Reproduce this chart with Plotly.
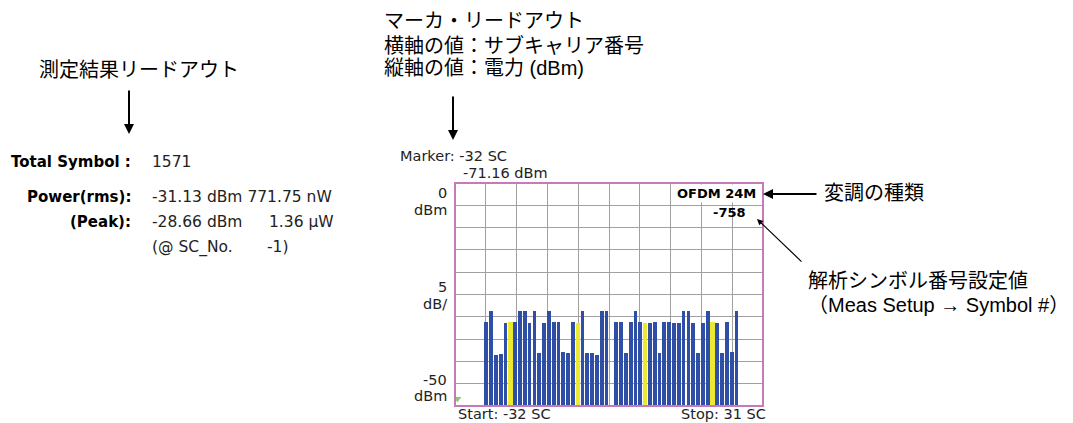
import plotly.graph_objects as go

# Subcarrier power readout (OFDM 24M, symbol -758)
subcarriers = list(range(-26, 0)) + list(range(1, 27))
power_dbm = [
    -31.2, -28.8, -38.5, -38.3, -31.4, -31.2, -31.2, -28.8, -28.8, -31.4,
    -28.8, -38.2, -31.4, -28.8, -31.2, -31.2, -37.9, -38.1, -31.2, -31.4,
    -28.8, -38.1, -38.1, -38.5, -28.8, -28.66,
    -31.2, -31.2, -38.1, -31.2, -28.8, -31.2, -31.4, -31.3, -31.2, -38.1,
    -31.2, -31.2, -31.4, -31.4, -28.7, -28.8, -31.4, -38.1, -31.4, -28.7,
    -31.2, -31.4, -38.1, -31.2, -37.9, -28.7,
]
pilot_sc = [-21, -7, 7, 21]

sc_start, sc_stop = -32, 31
ref_level_dbm = 0
db_per_div = 5
n_div = 10
bottom_dbm = ref_level_dbm - db_per_div * n_div

marker_sc = -32
marker_dbm = -71.16

readout_labels = ["Total Symbol :", "Power(rms):", "(Peak):"]
total_symbol = 1571
rms_dbm, rms_nw = -31.13, 771.75
peak_dbm, peak_uw = -28.66, 1.36
peak_sc = -1

# canvas and plot-box geometry in pixels
FW, FH = 1073, 423
L, R, T, B = 455, 763, 183, 406
W, H = R - L, B - T


def px(x):
    return (x - L) / W


def py(y):
    return (B - y) / H


BLUE = "#2f4fa6"
YELLOW = "#ede832"
INSTR = "DejaVu Sans, sans-serif"
JP = "Liberation Sans, Noto Sans CJK JP, sans-serif"

colors = [YELLOW if s in pilot_sc else BLUE for s in subcarriers]
widths = [0.9 if s in pilot_sc else 0.78 for s in subcarriers]

fig = go.Figure()
fig.add_trace(go.Bar(
    x=subcarriers,
    y=[v - bottom_dbm for v in power_dbm],
    base=bottom_dbm,
    marker=dict(color=colors, line=dict(width=0)),
    width=widths,
    showlegend=False,
))
fig.add_trace(go.Scatter(
    x=[marker_sc], y=[max(marker_dbm, bottom_dbm + 1.6)],
    mode="markers",
    marker=dict(symbol="triangle-down", size=7, color="#8cc870"),
    cliponaxis=False, showlegend=False,
))

fig.update_layout(
    width=FW, height=FH,
    margin=dict(l=L, r=FW - R, t=T, b=FH - B),
    paper_bgcolor="white", plot_bgcolor="white",
    bargap=0,
    xaxis=dict(range=[sc_start - 0.5, sc_stop + 0.5], tick0=sc_start - 0.5,
               dtick=(sc_stop - sc_start + 1) / n_div, showticklabels=False,
               showgrid=True, gridcolor="#a0a0a0", gridwidth=1.2, zeroline=False,
               ticks=""),
    yaxis=dict(range=[bottom_dbm, ref_level_dbm], tick0=bottom_dbm, dtick=db_per_div,
               showticklabels=False, showgrid=True, gridcolor="#a0a0a0",
               gridwidth=1.2, zeroline=False, ticks=""),
)

fig.add_shape(type="rect", xref="paper", yref="paper", x0=0, x1=1, y0=0, y1=1,
              line=dict(color="#c67ab8", width=2), layer="above")

ann = []


def text(x, y, s, size=13, family=INSTR, color="#222222", xa="left", ya="middle", **kw):
    ann.append(dict(xref="paper", yref="paper", x=px(x), y=py(y), text=s,
                    showarrow=False, xanchor=xa, yanchor=ya,
                    font=dict(size=size, family=family, color=color), **kw))


def arrow(x0, y0, x1, y1, width=2, head=2, size=1.0):
    ann.append(dict(xref="paper", yref="paper", x=px(x1), y=py(y1), text="",
                    showarrow=True, ax=x0 - x1, ay=y0 - y1, axref="pixel", ayref="pixel",
                    arrowhead=head, arrowsize=size, arrowwidth=width,
                    arrowcolor="black", standoff=0, startstandoff=0))


# marker readout above the trace window
text(398, 156, f"Marker: {marker_sc} SC", size=14.5)
text(461, 173, f"{marker_dbm:.2f} dBm", size=14.5)

# reference level / scale / bottom labels
text(449, 193, f"{ref_level_dbm}", size=14.5, xa="right")
text(449, 210, "dBm", size=14.5, xa="right")
text(449, 287, f"{db_per_div}", size=14.5, xa="right")
text(449, 304, "dB/", size=14.5, xa="right")
text(449, 380, f"{bottom_dbm}", size=14.5, xa="right")
text(449, 396, "dBm", size=14.5, xa="right")
text(456, 414, f"Start: {sc_start} SC", size=14.5)
text(768, 414, f"Stop: {sc_stop} SC", size=14.5, xa="right")

# modulation and symbol number inside the window
text(758, 193, "<b>OFDM 24M</b>", size=13, xa="right", color="black", bgcolor="white")
text(748, 212, "<b>-758</b>", size=13, xa="right", color="black")

# measurement result readout
text(133, 162, f"<b>{readout_labels[0]}</b>", size=15, xa="right", color="black")
text(150, 162, f"{total_symbol}", size=15.5)
text(133, 197, f"<b>{readout_labels[1]}</b>", size=15, xa="right", color="black")
text(150, 197, f"{rms_dbm:.2f} dBm {rms_nw:.2f} nW", size=15.5)
text(133, 222, f"<b>{readout_labels[2]}</b>", size=15, xa="right", color="black")
text(150, 222, f"{peak_dbm:.2f} dBm", size=15.5)
text(336, 222, f"{peak_uw:.2f} µW", size=15.5, xa="right")
text(150, 247, "(@ SC_No.", size=15.5)
text(291, 247, f"{peak_sc})", size=15.5, xa="right")

# callouts
text(37, 70, "測定結果リードアウト", size=20, family=JP, color="black")
text(382, 21, "マーカ・リードアウト", size=20, family=JP, color="black")
text(382, 45, "横軸の値：サブキャリア番号", size=20, family=JP, color="black")
text(382, 68, "縦軸の値：電力 (dBm)", size=20, family=JP, color="black")
text(822, 193, "変調の種類", size=20, family=JP, color="black")
text(806, 281, "解析シンボル番号設定値", size=20, family=JP, color="black")
text(806, 305, "（Meas Setup → Symbol #）", size=20, family=JP, color="black")

arrow(129, 89, 129, 134)
arrow(453, 95, 453, 140)
arrow(818, 194, 763, 194)
arrow(803, 263, 757, 219, width=1.2)

fig.update_layout(annotations=ann)
fig.write_html("out.html")
